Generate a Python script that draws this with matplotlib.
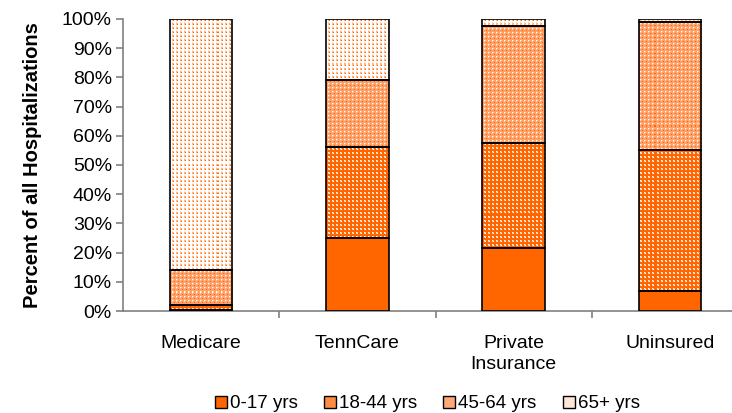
import numpy as np
import matplotlib.pyplot as plt
from matplotlib.patches import Patch
from matplotlib.colors import to_rgb

plt.rcParams['font.family'] = ['Liberation Sans', 'DejaVu Sans']

categories = ['Medicare', 'TennCare', 'Private\nInsurance', 'Uninsured']
age_groups = ['0-17 yrs', '18-44 yrs', '45-64 yrs', '65+ yrs']
age_0_17 = [0.5, 25, 21.5, 7]
age_18_44 = [1.5, 31, 36, 48]
age_45_64 = [12, 23, 40, 44]
age_65_up = [86, 21, 2.5, 1]
series = [age_0_17, age_18_44, age_45_64, age_65_up]
yticks = list(range(0, 101, 10))

ORANGE = '#FF6600'
# average colours (used for legend keys and as bar base)
avg_colors = [ORANGE, '#FF8C44', '#FFAA78', '#FFE6D6']


def make_tile(base, spots):
    t = np.ones((4, 4, 3)) * np.array(to_rgb(base))
    for (r, c), col in spots.items():
        t[r, c] = to_rgb(col)
    return t


W, L, O = '#FFFFFF', '#FFB888', ORANGE
tiles = [
    None,
    make_tile(ORANGE, {(1, 1): W, (1, 2): L, (2, 1): L, (2, 2): W}),
    make_tile('#FFA068', {(1, 1): W, (3, 3): O, (1, 2): '#FFC8A0', (2, 1): '#FFC8A0'}),
    make_tile('#FFFFFF', {(1, 1): L, (1, 2): L, (2, 1): L, (2, 2): O, (0, 1): '#FFE0CC'}),
]

fig = plt.figure(figsize=(7.32, 4.13), dpi=100)
ax_w, ax_h = 625, 292
ax = fig.add_axes([123 / 732, (413 - 311) / 413, ax_w / 732, ax_h / 413])
ax.set_xlim(-0.5, 3.5)
ax.set_ylim(0, 100)

x = np.arange(len(categories))
bottom = np.zeros(len(categories))
for i, vals in enumerate(series):
    bars = ax.bar(x, vals, 0.4, bottom=bottom, color=avg_colors[i],
                  edgecolor='none', zorder=2)
    if tiles[i] is not None:
        tex = np.tile(tiles[i], (ax_h // 4 + 1, ax_w // 4 + 1, 1))[:ax_h, :ax_w]
        for b in bars:
            im = ax.imshow(tex, extent=(-0.5, 3.5, 0, 100), aspect='auto',
                           interpolation='nearest', zorder=2.5)
            im.set_clip_path(b)
    ax.bar(x, vals, 0.4, bottom=bottom, facecolor='none',
           edgecolor='black', linewidth=1.2, zorder=3)
    bottom += np.array(vals)

for s in ['top', 'right']:
    ax.spines[s].set_visible(False)
for s in ['left', 'bottom']:
    ax.spines[s].set_color('#808080')
    ax.spines[s].set_linewidth(1.2)

ax.set_yticks(yticks)
ax.set_yticklabels([f'{v}%' for v in yticks], fontsize=14)
ax.tick_params(axis='y', direction='out', length=5, color='#808080', width=1.2, pad=3)

ax.set_xticks([0.5, 1.5, 2.5, 3.5])
ax.set_xticklabels([])
ax.tick_params(axis='x', which='major', direction='out', length=5,
               color='#808080', width=1.2)
ax.set_xticks(x, minor=True)
ax.set_xticklabels(categories, minor=True, fontsize=14, linespacing=1.3)
ax.tick_params(axis='x', which='minor', length=0, pad=17)

ax.set_ylabel('Percent of all Hospitalizations', fontsize=14.5, fontweight='bold')
ax.yaxis.set_label_coords(-(123 - 42) / ax_w, 0.5)

handles = [Patch(facecolor=c, edgecolor='black', linewidth=1) for c in avg_colors]
fig.legend(handles, age_groups, loc='center', bbox_to_anchor=(427 / 732, 1 - 404 / 413),
           ncol=4, frameon=False, fontsize=13.5, handlelength=0.65, handleheight=0.65,
           handletextpad=0.15, columnspacing=1.4)

fig.savefig('out.png', dpi=100)
